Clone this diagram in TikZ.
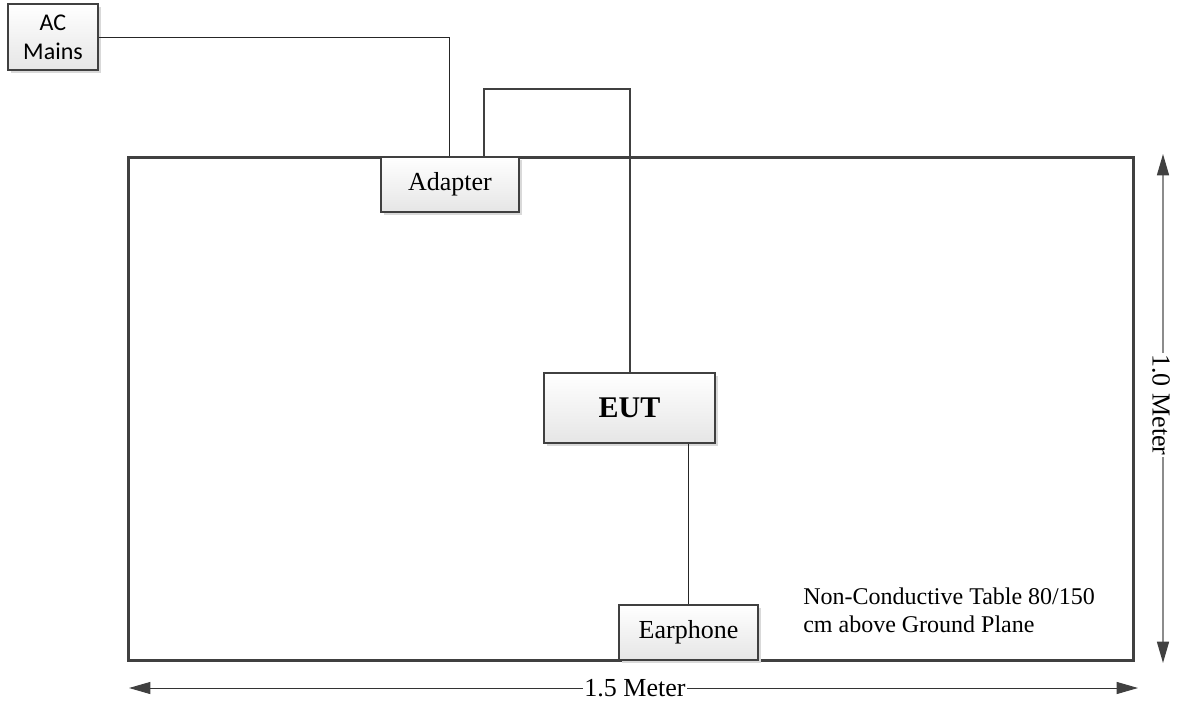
\documentclass[tikz,border=0pt]{standalone}
\usepackage{fontspec}
\setmainfont{Liberation Serif}
\newfontfamily\calfont{Carlito}
\usetikzlibrary{arrows.meta,shadows}
\definecolor{boxc}{HTML}{404040}
\begin{document}
\begin{tikzpicture}[x=0.75pt,y=-0.75pt,
  box/.style={draw=boxc, line width=1.5pt, top color=white, bottom color=black!10,
    drop shadow={shadow xshift=2.5pt, shadow yshift=-2.5pt, fill=black!15, opacity=1},
    inner sep=0pt, align=center, font=\fontsize{19.5}{22}\selectfont},
  thin wire/.style={draw=black!85, line width=0.75pt},
  cable/.style={draw=boxc, line width=1.5pt},
  dimtip/.style={{Triangle[length=16pt,width=9pt,color=boxc]}-{Triangle[length=16pt,width=9pt,color=boxc]}},
  dimlabel/.style={fill=white, inner sep=1pt, font=\fontsize{19.5}{22}\selectfont}]
\useasboundingbox (0,0) rectangle (1179,703);
% table
\node[draw=boxc, line width=2.25pt, minimum width=753.75pt, minimum height=377.25pt, inner sep=0pt] (table) at (630.5,408.5) {};
\coordinate (c1) at (560,89);
\node[box, font=\calfont\fontsize{18}{22}\selectfont, minimum width=67.5pt, minimum height=49.5pt] (ac) at (53,37) {AC\\Mains};
\node[box, minimum width=103.5pt, minimum height=41.25pt] (adapter) at (450,184.5) {Adapter};
\node[box, font=\bfseries\fontsize{22.5}{26}\selectfont, minimum width=128.25pt, minimum height=52.5pt] (eut) at (629.5,408) {EUT};
\node[box, minimum width=104.25pt, minimum height=41.25pt] (earphone) at (688.5,632.5) {Earphone};
\draw[thin wire] (ac.east) -| ([xshift=-0.75pt]adapter.north);
\draw[cable] ([xshift=25.5pt]adapter.north) |- (c1) -| (eut.north);
\draw[thin wire] (earphone.north |- eut.south) -- (earphone.north);
% note
\node[anchor=north west, align=left, inner sep=0pt, font=\fontsize{18}{21}\selectfont] (note) at (803,588) {Non-Conductive Table 80/150\\cm above Ground Plane};
% dimensions
\coordinate (hl) at (129,688);
\coordinate (hr) at (1138,688);
\draw[draw=black!80, line width=0.75pt, dimtip] (hl) -- (hr);
\node[dimlabel] (hlab) at (635,688) {1.5 Meter};
\coordinate (vt) at (1163,154);
\coordinate (vb) at (1163,663);
\draw[draw=black!45, line width=1.1pt, dimtip] (vt) -- (vb);
\node[dimlabel, rotate=-90] (vlab) at (1161,405) {1.0 Meter};
\end{tikzpicture}
\end{document}
